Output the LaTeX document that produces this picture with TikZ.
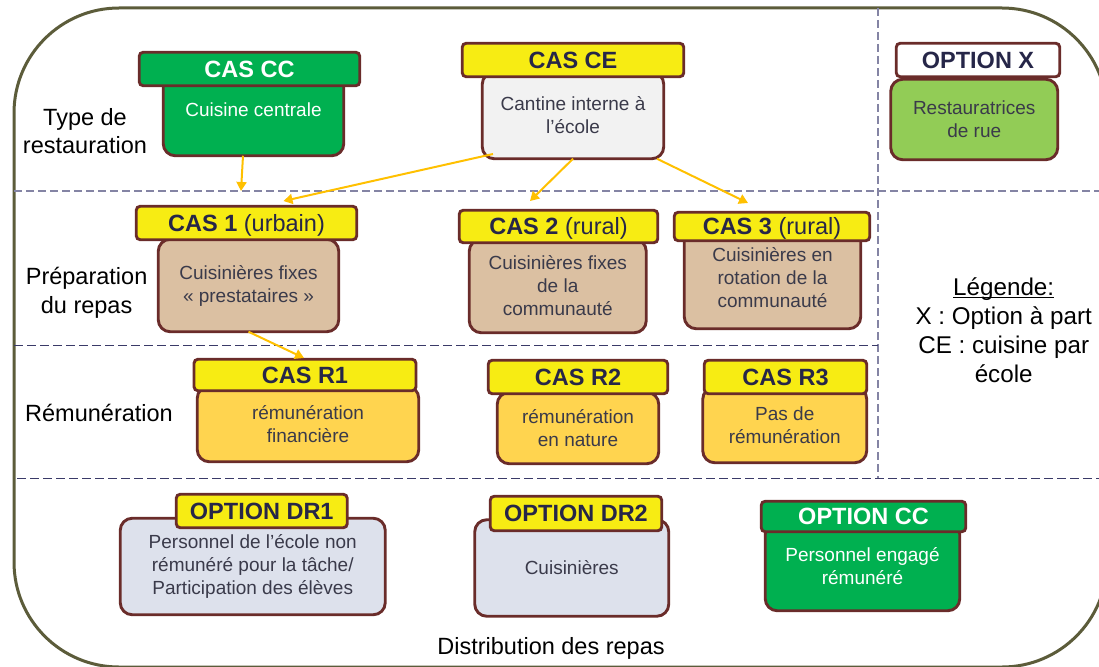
\documentclass[tikz,border=0pt]{standalone}
\usepackage{fontspec}
\usepackage{xcolor}
\usepackage{tikz}
\setmainfont{Liberation Sans}
\usetikzlibrary{positioning, arrows.meta}
\definecolor{edgebrown}{HTML}{6A2C2A}
\definecolor{framegreen}{HTML}{5C5C3A}
\definecolor{sepgrey}{HTML}{8484A4}
\definecolor{sepnavy}{HTML}{3A3A68}
\definecolor{headnavy}{HTML}{262648}
\definecolor{bodygrey}{HTML}{3A3A4A}
\definecolor{casgreen}{HTML}{00B050}
\definecolor{casyellow}{HTML}{F7EC13}
\definecolor{castan}{HTML}{DBC0A2}
\definecolor{casorange}{HTML}{FFD44F}
\definecolor{caslav}{HTML}{DDE1EC}
\definecolor{caslight}{HTML}{92CC56}
\definecolor{casgrey}{HTML}{F2F2F2}
\definecolor{arrowgold}{HTML}{FFC000}

\begin{document}
\begin{tikzpicture}[x=1pt,y=-1pt,
	main/.style = {draw=edgebrown, line width=2.9pt, outer sep=0pt, inner sep=0pt, align=center},
	bodybox/.style = {main, rounded corners=12pt, text=bodygrey, font=\fontsize{19}{23}\selectfont},
	headbox/.style = {main, rounded corners=4pt, fill=casyellow, text=headnavy, minimum height=33.5pt, text height=16.8pt, text depth=0pt, font=\fontsize{23.5}{28}\selectfont},
	rowlabel/.style = {align=center, inner sep=0pt, font=\fontsize{23.5}{29}\selectfont},
	link/.style = {draw=arrowgold, line width=2pt, -{Triangle[length=9pt,width=10pt]}}]
	\useasboundingbox (0,0) rectangle (1099,666);
	% frame and separators
	\draw[framegreen, line width=3pt, rounded corners=105pt] (14,8) rectangle (1107,667);
	\draw[sepgrey, line width=1.4pt, dash pattern=on 8pt off 4pt] (14,191) -- (1099,191);
	\draw[sepgrey, line width=1.4pt, dash pattern=on 8pt off 4pt] (878,8) -- (878,478);
	\draw[sepnavy, line width=1pt, dash pattern=on 9pt off 4pt] (14,345) -- (878,345);
	\draw[sepnavy, line width=1pt, dash pattern=on 9pt off 4pt] (17,478.5) -- (1099,478.5);

	% row labels
	\node[rowlabel, font=\fontsize{23.5}{28}\selectfont] (type) at (85,131) {Type de\\restauration};
	\node[rowlabel] (prep) at (86.6,292.5) {Préparation\\du repas};
	\node[rowlabel] (remu) at (99,413) {Rémunération};
	\node[rowlabel] (dist) at (551,648.5) {Distribution des repas};
	\node[rowlabel, font=\fontsize{24.2}{29}\selectfont] (legend) at (1003.7,339) {\underline{\smash{Légende:}}\\X : Option à part\\CE : cuisine par\\école};

	% type de restauration
	\node[bodybox, fill=casgreen, text=white, minimum width=180.5pt, minimum height=91.5pt] (bodycc) at (253.5,110) {Cuisine centrale};
	\node[headbox, fill=casgreen, text=white, minimum width=220.5pt, above=-21.5pt of bodycc, xshift=-4pt] (headcc) {\textbf{CAS CC}};
	\node[bodybox, fill=casgrey, minimum width=181.5pt, minimum height=86.5pt] (bodyce) at (573,115.5) {Cantine interne à\\l’école};
	\node[headbox, minimum width=221.5pt, above=-4.5pt of bodyce] (headce) {\textbf{CAS CE}};
	\node[bodybox, fill=caslight, minimum width=167pt, minimum height=80.5pt] (bodyx) at (974.25,119.5) {Restauratrices\\de rue};
	\node[headbox, fill=white, minimum width=163.5pt, above=2.5pt of bodyx, xshift=3.75pt] (headx) {\textbf{OPTION X}};

	% preparation du repas
	\node[bodybox, fill=castan, minimum width=180.5pt, minimum height=92.5pt] (bodyone) at (248.5,285.5) {Cuisinières fixes\\« prestataires »};
	\node[headbox, minimum width=220.5pt, above=-0.5pt of bodyone, xshift=-2pt] (headone) {\textbf{CAS 1} (urbain)};
	\node[bodybox, fill=castan, minimum width=177pt, minimum height=93.5pt] (bodytwo) at (557.75,286) {Cuisinières fixes\\de la\\communauté};
	\node[headbox, minimum width=198.5pt, minimum height=32.5pt, above=-3.5pt of bodytwo, xshift=0.75pt] (headtwo) {\textbf{CAS 2} (rural)};
	\node[bodybox, fill=castan, minimum width=176.5pt, minimum height=101.5pt] (bodythree) at (772.5,278) {Cuisinières en\\rotation de la\\communauté};
	\node[headbox, minimum width=195.5pt, minimum height=28.5pt, above=-13.5pt of bodythree, xshift=-0.5pt] (headthree) {\textbf{CAS 3} (rural)};

	% remuneration
	\node[bodybox, fill=casorange, minimum width=221.5pt, minimum height=75.5pt] (bodyrone) at (308,424) {rémunération\\financière};
	\node[headbox, minimum width=222pt, minimum height=31.5pt, above=-4.5pt of bodyrone, xshift=-3pt] (headrone) {\textbf{CAS R1}};
	\node[bodybox, fill=casorange, minimum width=161.5pt, minimum height=71.5pt] (bodyrtwo) at (578,428) {rémunération\\en nature};
	\node[headbox, minimum width=179.5pt, above=-1.5pt of bodyrtwo] (headrtwo) {\textbf{CAS R2}};
	\node[bodybox, fill=casorange, minimum width=164pt, minimum height=75.5pt] (bodyrthree) at (784.75,425) {Pas de\\rémunération};
	\node[headbox, minimum width=162.5pt, above=-6.5pt of bodyrthree, xshift=0.75pt] (headrthree) {\textbf{CAS R3}};

	% distribution des repas
	\node[bodybox, fill=caslav, minimum width=265pt, minimum height=96.5pt] (bodydrone) at (252.75,566.5) {Personnel de l’école non\\rémunéré pour la tâche/\\Participation des élèves};
	\node[headbox, minimum width=171pt, above=-9.5pt of bodydrone, xshift=9pt] (headdrone) {\textbf{OPTION DR1}};
	\node[bodybox, fill=caslav, minimum width=194pt, minimum height=96.5pt] (bodydrtwo) at (571.75,568) {Cuisinières};
	\node[headbox, minimum width=171.5pt, minimum height=34.5pt, above=-11pt of bodydrtwo, xshift=4.25pt] (headdrtwo) {\textbf{OPTION DR2}};
	\node[bodybox, fill=casgreen, text=white, minimum width=194.5pt, minimum height=88.5pt] (bodyoptcc) at (862.5,566.5) {Personnel engagé\\rémunéré};
	\node[headbox, fill=casgreen, text=white, minimum width=204.5pt, minimum height=30.5pt, above=-9.5pt of bodyoptcc, xshift=1pt] (headoptcc) {\textbf{OPTION CC}};

	% arrows
	\draw[link] ([xshift=-10.5pt]bodycc.south) -- ([xshift=-5.5pt,yshift=15.25pt]headone.north);
	\draw[link] ([xshift=10.75pt,yshift=4.75pt]bodyce.south west) -- ([xshift=37pt,yshift=5.25pt]headone.north);
	\draw[link] (bodyce.south) -- ([xshift=-28.5pt,yshift=9.25pt]headtwo.north);
	\draw[link] ([xshift=-6.75pt]bodyce.south east) -- ([xshift=-24pt,yshift=9.25pt]headthree.north);
	\draw[link] (bodyone.south) -- ([xshift=-1pt,yshift=1.25pt]headrone.north);
\end{tikzpicture}
\end{document}
